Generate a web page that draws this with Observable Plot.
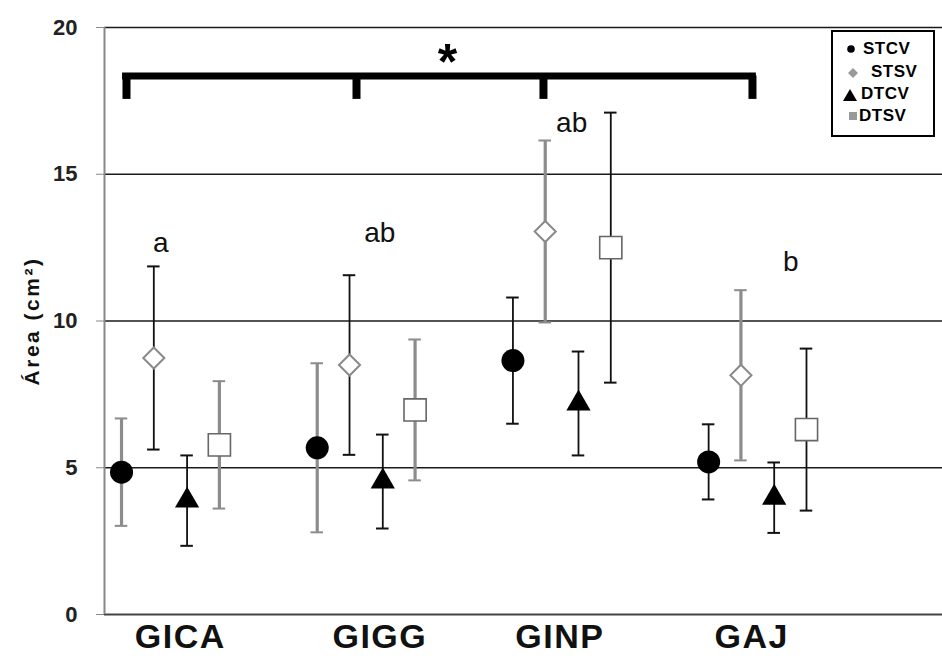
<!DOCTYPE html>
<html>
<head>
<meta charset="utf-8">
<script src="https://cdn.jsdelivr.net/npm/d3@7"></script>
<script src="https://cdn.jsdelivr.net/npm/@observablehq/plot@0.6"></script>
<style>
  body { margin: 0; background: #fff; }
  #wrap { position: relative; width: 942px; height: 661px; font-family: "Liberation Sans", Arial, sans-serif; }
  #legend { position: absolute; left: 831px; top: 30px; width: 104px; height: 107px; border: 2px solid #000; background: #fff; box-sizing: border-box; }
  .lrow { position: absolute; font-weight: bold; font-size: 17px; color: #000; line-height: 18px; white-space: nowrap; letter-spacing: 0.5px; }
  .sym { position: absolute; }
</style>
</head>
<body>
<div id="wrap">
  <div id="chart"></div>
  <div id="legend"></div>
</div>
<script>
// ---- data ----
const groups = ["GICA", "GIGG", "GINP", "GAJ"];
const seriesNames = ["STCV", "STSV", "DTCV", "DTSV"];
const stcvMean = [4.85, 5.68, 8.65, 5.2];
const stcvSd   = [1.83, 2.88, 2.15, 1.28];
const stsvMean = [8.74, 8.5, 13.05, 8.15];
const stsvSd   = [3.12, 3.06, 3.1, 2.9];
const dtcvMean = [3.88, 4.53, 7.19, 3.98];
const dtcvSd   = [1.54, 1.6, 1.77, 1.2];
const dtsvMean = [5.78, 6.97, 12.5, 6.3];
const dtsvSd   = [2.17, 2.4, 4.6, 2.76];
const groupLetters = ["a", "ab", "ab", "b"];
const yTicks = [0, 5, 10, 15, 20];
const yLabel = "Área (cm²)";
const starLabel = "*";

// ---- layout / style config ----
const offsets = {STCV: -0.25, STSV: -0.085, DTCV: 0.085, DTSV: 0.25};
const labelShift = [0.05, 0.07, -0.01, -0.03];
const grayBar = {STCV: [1, 1, 0, 0], STSV: [0, 0, 1, 1], DTCV: [0, 0, 0, 0], DTSV: [1, 1, 0, 0]};
const letterPos = [[-0.05, 12.67], [1.07, 13.0], [2.05, 16.76], [3.17, 12.0]];
const bracketY = 18.35, bracketLegBottom = 17.55;
const bracketLegs = [-0.2246, 0.9507, 1.906, 2.974];
const starPos = [1.416, 19.2];
const xDomain = [-0.337, 3.945];
const cap = 0.032;

const means = {STCV: stcvMean, STSV: stsvMean, DTCV: dtcvMean, DTSV: dtsvMean};
const sds = {STCV: stcvSd, STSV: stsvSd, DTCV: dtcvSd, DTSV: dtsvSd};
const rows = [];
seriesNames.forEach(s => groups.forEach((g, gi) => {
  rows.push({series: s, group: g, x: gi + offsets[s], mean: means[s][gi], sd: sds[s][gi], gray: grayBar[s][gi] === 1});
}));
const grayRows = rows.filter(d => d.gray), blackRows = rows.filter(d => !d.gray);
const font = "Liberation Sans, Arial, sans-serif";

function errMarks(data, stroke, sw) {
  return [
    Plot.ruleX(data, {x: "x", y1: d => d.mean - d.sd, y2: d => d.mean + d.sd, stroke, strokeWidth: sw}),
    Plot.ruleY(data, {y: d => d.mean + d.sd, x1: d => d.x - cap, x2: d => d.x + cap, stroke, strokeWidth: 2}),
    Plot.ruleY(data, {y: d => d.mean - d.sd, x1: d => d.x - cap, x2: d => d.x + cap, stroke, strokeWidth: 2})
  ];
}

const chart = Plot.plot({
  width: 942, height: 661,
  marginLeft: 104, marginRight: 0, marginTop: 27, marginBottom: 47,
  style: {fontFamily: font, background: "#fff", overflow: "visible"},
  x: {type: "linear", domain: xDomain, axis: null},
  y: {type: "linear", domain: [0, 20], axis: null},
  marks: [
    Plot.ruleY(yTicks.filter(t => t > 0), {y: d => d, stroke: "#1a1a1a", strokeWidth: 1.5}),
    Plot.ruleY([0], {y: d => d, stroke: "#444", strokeWidth: 2}),
    Plot.ruleX([xDomain[0]], {x: d => d, stroke: "#888", strokeWidth: 2}),
    Plot.axisY({ticks: yTicks, tickSize: 8, tickPadding: 19, stroke: "#888", fill: "#222", fontSize: 22, fontWeight: "bold", label: null}),
    ...errMarks(grayRows, "#8c8c8c", 3.2),
    ...errMarks(blackRows, "#111", 1.8),
    Plot.dot(rows.filter(d => d.series === "STCV"), {x: "x", y: "mean", r: 11.5, fill: "#000", symbol: "circle"}),
    Plot.dot(rows.filter(d => d.series === "STSV"), {x: "x", y: "mean", r: 9.5, fill: "#fff", stroke: "#8a8a8a", strokeWidth: 2, symbol: "diamond2"}),
    Plot.dot(rows.filter(d => d.series === "DTCV"), {x: "x", y: "mean", r: 9, fill: "#000", symbol: "triangle"}),
    Plot.dot(rows.filter(d => d.series === "DTSV"), {x: "x", y: "mean", r: 12.5, fill: "#fff", stroke: "#666", strokeWidth: 1.6, symbol: "square"}),
    Plot.text(groupLetters, {x: (d, i) => letterPos[i][0], y: (d, i) => letterPos[i][1], text: d => d, fontSize: 28, fill: "#111"}),
    Plot.ruleY([bracketY], {y: d => d, x1: bracketLegs[0] - 0.02, x2: bracketLegs[3] + 0.02, stroke: "#000", strokeWidth: 7}),
    Plot.ruleX(bracketLegs, {x: d => d, y1: bracketLegBottom, y2: bracketY, stroke: "#000", strokeWidth: 8}),
    Plot.text([starLabel], {x: starPos[0], y: starPos[1], text: d => d, fontSize: 50, fontWeight: "bold", fill: "#000", dy: 12}),
    Plot.text(groups, {x: (d, i) => i + labelShift[i], y: 0, text: d => d, dy: 23, fontSize: 34, fontWeight: "bold", fill: "#111", lineAnchor: "middle"}),
    Plot.text([yLabel], {frameAnchor: "left", dx: -72, rotate: -90, textAnchor: "middle", text: d => d, fontSize: 21, fontWeight: "bold", fill: "#111"})
  ]
});
document.getElementById("chart").appendChild(chart);

// letter spacing tweaks for wide original lettering
d3.select(chart).selectAll("text").each(function() {
  const t = this.textContent;
  if (groups.includes(t)) d3.select(this).attr("letter-spacing", "1.5px");
  if (t === yLabel) d3.select(this).attr("letter-spacing", "2.5px");
});

// legend
const legend = d3.select("#legend");
const legendRows = [
  {name: seriesNames[0], top: 8, textLeft: 30, sym: `<svg class="sym" style="left:13px;top:12px" width="10" height="10"><circle cx="5" cy="5" r="3.8" fill="#000"/></svg>`},
  {name: seriesNames[1], top: 31, textLeft: 38, sym: `<svg class="sym" style="left:14px;top:35px" width="12" height="12"><path d="M6 1L11 6L6 11L1 6Z" fill="#999"/></svg>`},
  {name: seriesNames[2], top: 53, textLeft: 28, sym: `<svg class="sym" style="left:9px;top:56px" width="16" height="14"><path d="M8 1L15 13L1 13Z" fill="#000"/></svg>`},
  {name: seriesNames[3], top: 75, textLeft: 26, sym: `<svg class="sym" style="left:15px;top:79px" width="10" height="10"><rect x="1" y="1" width="8" height="8" fill="#999"/></svg>`}
];
legendRows.forEach(r => {
  legend.append("div").attr("class", "lrow").style("left", r.textLeft + "px").style("top", r.top + "px").text(r.name);
  legend.node().insertAdjacentHTML("beforeend", r.sym);
});
</script>
</body>
</html>
